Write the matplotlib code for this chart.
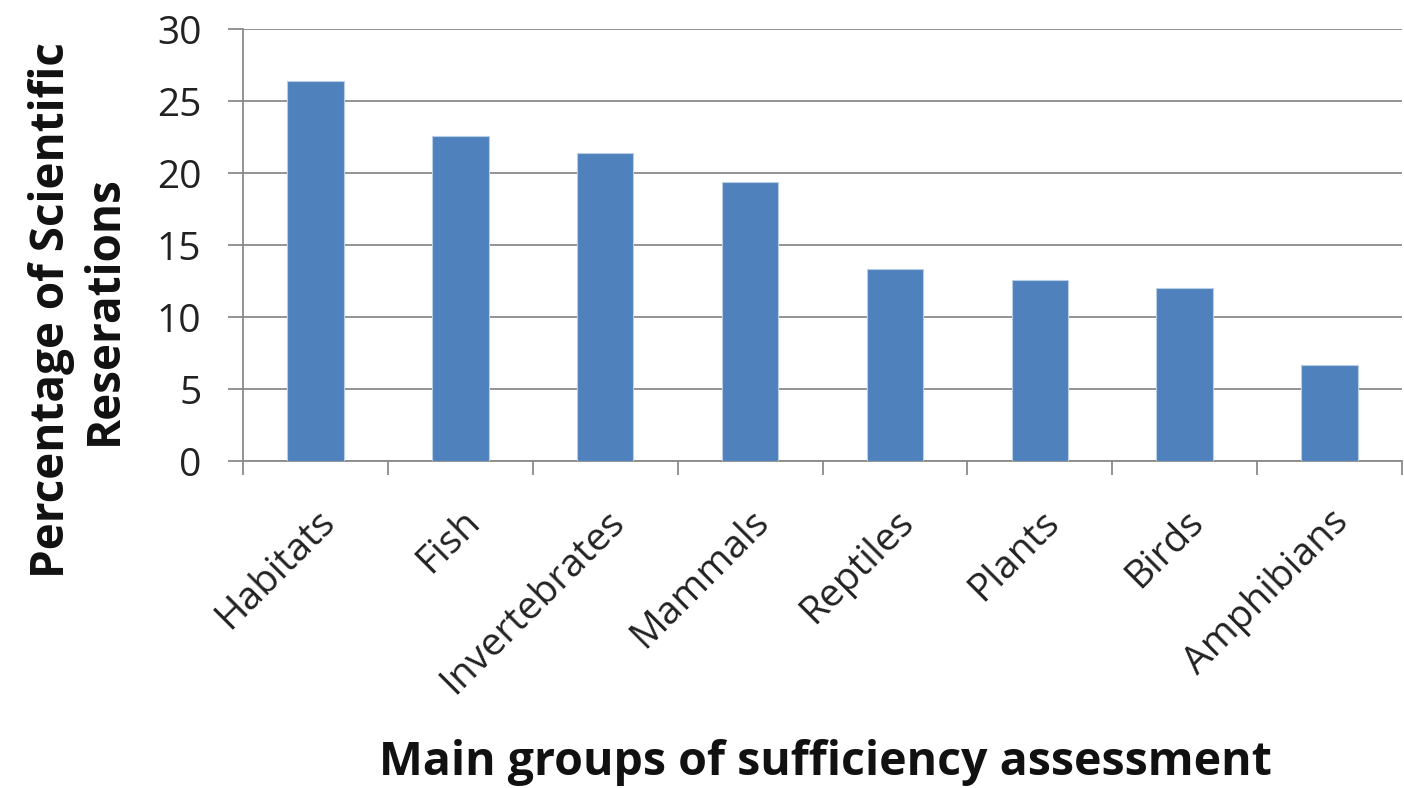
import matplotlib
matplotlib.use("Agg")
import matplotlib.pyplot as plt
import matplotlib.transforms as mtransforms

categories = ["Habitats", "Fish", "Invertebrates", "Mammals", "Reptiles", "Plants", "Birds", "Amphibians"]
values = [26.4, 22.6, 21.4, 19.4, 13.3, 12.6, 12.0, 6.7]
yticks = [0, 5, 10, 15, 20, 25, 30]

plt.rcParams['font.family'] = ['Open Sans', 'DejaVu Sans']

fig = plt.figure(figsize=(14.04, 7.88), dpi=100)
ax = fig.add_axes([243/1404, 1-461/788, (1402-243)/1404, (461-29)/788])

x = list(range(len(categories)))
ax.bar(x, values, width=0.39, color="#4F81BD", edgecolor="#B9CDE5", linewidth=0.8, zorder=3)
ax.set_xlim(-0.5, len(categories) - 0.5)
ax.set_ylim(0, 30)
ax.set_yticks(yticks)
ax.set_yticklabels([str(t) for t in yticks], fontsize=28, color="#222222")
ax.yaxis.grid(True, color="#8a8a8a", linewidth=1.3, zorder=0)
ax.set_axisbelow(True)

ax.set_xticks([i - 0.5 for i in range(len(categories) + 1)], minor=False)
ax.set_xticklabels([])
ax.set_xticks(x, minor=True)
ax.set_xticklabels(categories, minor=True, rotation=45, ha="right", va="top",
                   rotation_mode="anchor", fontsize=28, color="#222222")
offset = mtransforms.ScaledTranslation(14/100, 0, fig.dpi_scale_trans)
for lab in ax.get_xticklabels(minor=True):
    lab.set_transform(lab.get_transform() + offset)
ax.tick_params(axis="x", which="major", length=10, width=1.3, color="#8a8a8a", direction="out")
ax.tick_params(axis="x", which="minor", length=0, pad=30)
ax.tick_params(axis="y", length=11, width=1.3, color="#8a8a8a", direction="out", pad=19)

for s in ["top", "right"]:
    ax.spines[s].set_visible(False)
for s in ["left", "bottom"]:
    ax.spines[s].set_color("#8a8a8a")
    ax.spines[s].set_linewidth(1.3)

fig.text(78/1404, 1-310/788, "Percentage of Scientific\nReserations", rotation=90,
         ha="center", va="center", fontsize=33, fontweight="bold", color="#111111",
         linespacing=1.15)
fig.text(825/1404, 1-762/788, "Main groups of sufficiency assessment", ha="center", va="center",
         fontsize=33.5, fontweight="bold", color="#111111")

fig.savefig("out.png", dpi=100)
